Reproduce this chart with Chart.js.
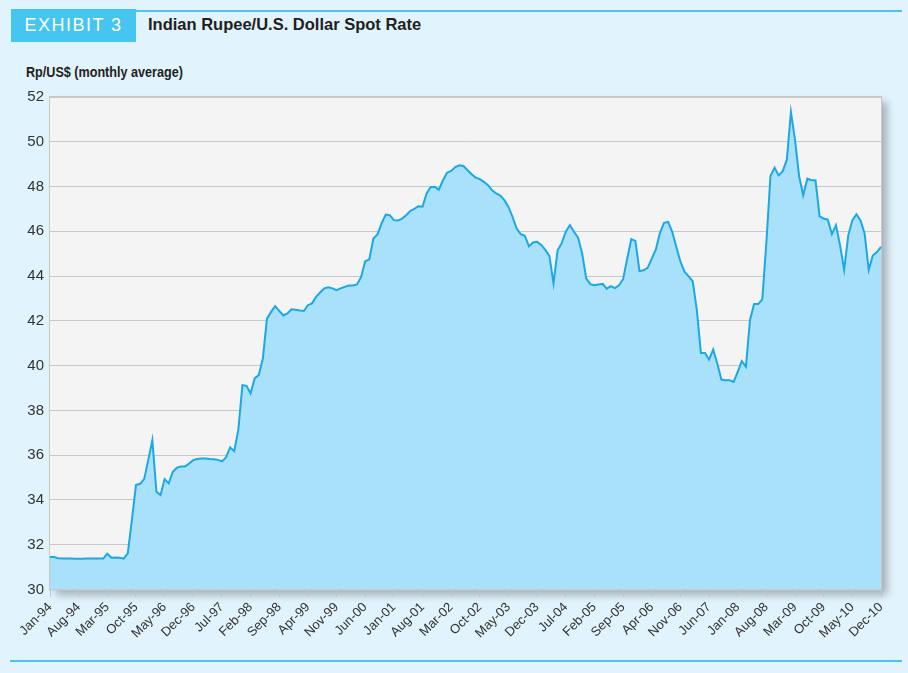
<!DOCTYPE html>
<html>
<head>
<meta charset="utf-8">
<script src="https://cdn.jsdelivr.net/npm/chart.js@4.4.1/dist/chart.umd.min.js"></script>
<style>
  html, body { margin: 0; padding: 0; }
  body { width: 908px; height: 673px; background: #e1f3fc; position: relative; overflow: hidden;
         font-family: "Liberation Sans", Arial, sans-serif; }
  #box { position: absolute; left: 11px; top: 9px; width: 125px; height: 33px; background: #45c5f0;
         color: #fff; font-size: 18px; letter-spacing: 1.5px;
         line-height: 33px; text-align: center; }
  #topline { position: absolute; left: 136px; top: 10px; width: 766px; height: 2px; background: #45c5f0; }
  #title { position: absolute; left: 148px; top: 15px; font-size: 16.5px; font-weight: bold; color: #231f20; }
  #ytitle { position: absolute; left: 26px; top: 64px; font-size: 14px; font-weight: bold; color: #231f20;
            transform: scaleX(0.9); transform-origin: left center; white-space: nowrap; }
  #botline { position: absolute; left: 10px; top: 660px; width: 892px; height: 2px; background: #45c5f0; }
  canvas { position: absolute; left: 0; top: 0; }
</style>
</head>
<body>
<div id="box">EXHIBIT 3</div>
<div id="topline"></div>
<div id="title">Indian Rupee/U.S. Dollar Spot Rate</div>
<div id="ytitle">Rp/US$ (monthly average)</div>
<div id="botline"></div>
<canvas id="c" width="908" height="673"></canvas>
<script>
// ---- data ----
const monthNames = ["Jan","Feb","Mar","Apr","May","Jun","Jul","Aug","Sep","Oct","Nov","Dec"];
const years = ["94","95","96","97","98","99","00","01","02","03","04","05","06","07","08","09","10"];

const r1994 = [31.45, 31.45, 31.40, 31.38, 31.38, 31.38, 31.37, 31.37, 31.37, 31.38, 31.38, 31.38];
const r1995 = [31.38, 31.38, 31.60, 31.42, 31.43, 31.42, 31.38, 31.62, 33.10, 34.67, 34.72, 34.93];
const r1996 = [35.78, 36.67, 34.37, 34.22, 34.93, 34.74, 35.26, 35.44, 35.50, 35.50, 35.63, 35.78];
const r1997 = [35.83, 35.85, 35.85, 35.83, 35.82, 35.79, 35.72, 35.90, 36.35, 36.18, 37.12, 39.13];
const r1998 = [39.10, 38.76, 39.43, 39.58, 40.32, 42.10, 42.40, 42.66, 42.45, 42.24, 42.33, 42.52];
const r1999 = [42.50, 42.46, 42.44, 42.70, 42.78, 43.07, 43.27, 43.45, 43.50, 43.45, 43.37, 43.45];
const r2000 = [43.52, 43.58, 43.58, 43.63, 43.96, 44.66, 44.75, 45.68, 45.86, 46.35, 46.75, 46.72];
const r2001 = [46.50, 46.48, 46.57, 46.72, 46.91, 47.00, 47.12, 47.10, 47.69, 47.98, 47.98, 47.86];
const r2002 = [48.28, 48.62, 48.70, 48.87, 48.95, 48.92, 48.73, 48.55, 48.40, 48.33, 48.21, 48.06];
const r2003 = [47.83, 47.69, 47.60, 47.39, 47.09, 46.64, 46.12, 45.87, 45.80, 45.33, 45.50, 45.53];
const r2004 = [45.39, 45.17, 44.89, 43.67, 45.15, 45.47, 45.98, 46.28, 45.98, 45.72, 45.01, 43.89];
const r2005 = [43.64, 43.59, 43.62, 43.65, 43.44, 43.55, 43.46, 43.59, 43.86, 44.78, 45.65, 45.57];
const r2006 = [44.22, 44.26, 44.37, 44.78, 45.19, 45.93, 46.38, 46.42, 45.98, 45.30, 44.65, 44.20];
const r2007 = [43.99, 43.77, 42.50, 40.57, 40.57, 40.27, 40.72, 40.10, 39.38, 39.35, 39.35, 39.27];
const r2008 = [39.72, 40.20, 39.95, 42.04, 42.75, 42.75, 42.96, 45.50, 48.47, 48.84, 48.50, 48.69];
const r2009 = [49.20, 51.33, 50.07, 48.46, 47.61, 48.35, 48.28, 48.28, 46.67, 46.57, 46.52, 45.87];
const r2010 = [46.27, 45.37, 44.28, 45.82, 46.49, 46.76, 46.49, 45.90, 44.28, 44.92, 45.07, 45.30];

const rates = [].concat(r1994, r1995, r1996, r1997, r1998, r1999, r2000, r2001, r2002,
                        r2003, r2004, r2005, r2006, r2007, r2008, r2009, r2010);
const categories = [];
years.forEach(y => monthNames.forEach(m => categories.push(m + "-" + y)));
const labelEvery = 7;
const yMin = 30, yMax = 52, yStep = 2;

// ---- plot frame plugin ----
const frame = {
  id: 'frame',
  beforeDraw(chart) {
    const {ctx, chartArea: a} = chart;
    ctx.save();
    ctx.shadowColor = 'rgba(0,0,0,0.28)';
    ctx.shadowBlur = 8;
    ctx.shadowOffsetX = 6;
    ctx.shadowOffsetY = 5;
    ctx.fillStyle = '#f4f4f4';
    ctx.fillRect(a.left, a.top, a.right - a.left, a.bottom - a.top);
    ctx.restore();
    ctx.save();
    ctx.strokeStyle = '#c8c8c8';
    ctx.lineWidth = 1;
    ctx.strokeRect(a.left - 0.5, a.top - 0.5, a.right - a.left + 1, a.bottom - a.top + 1);
    ctx.restore();
  }
};

const fam = '"Liberation Sans", Arial, sans-serif';

new Chart(document.getElementById('c'), {
  type: 'line',
  data: {
    labels: categories,
    datasets: [{
      data: rates,
      borderColor: '#1aa8e6',
      backgroundColor: '#a9e1fa',
      borderWidth: 2,
      fill: 'start',
      tension: 0,
      pointRadius: 0
    }]
  },
  options: {
    responsive: false,
    animation: false,
    layout: { padding: { top: 97, right: 27, left: 0, bottom: 0 } },
    plugins: { legend: { display: false }, tooltip: { enabled: false } },
    scales: {
      x: {
        type: 'category',
        offset: false,
        afterFit(s) { s.height = 83.5; },
        border: { display: false },
        grid: { drawOnChartArea: false, drawTicks: true, tickLength: 8, color: '#c4c4c4' },
        ticks: {
          autoSkip: false, minRotation: 45, maxRotation: 45, padding: 2,
          color: '#333', font: { family: fam, size: 13 },
          callback(v, i) { return i % labelEvery === 0 ? categories[i] : null; }
        }
      },
      y: {
        min: yMin, max: yMax,
        afterFit(s) { s.width = 50; },
        border: { display: false },
        grid: { color: '#c8c8c8', drawTicks: false, lineWidth: 1 },
        ticks: { stepSize: yStep, padding: 6, color: '#333', font: { family: fam, size: 15 } }
      }
    }
  },
  plugins: [frame]
});
</script>
</body>
</html>
